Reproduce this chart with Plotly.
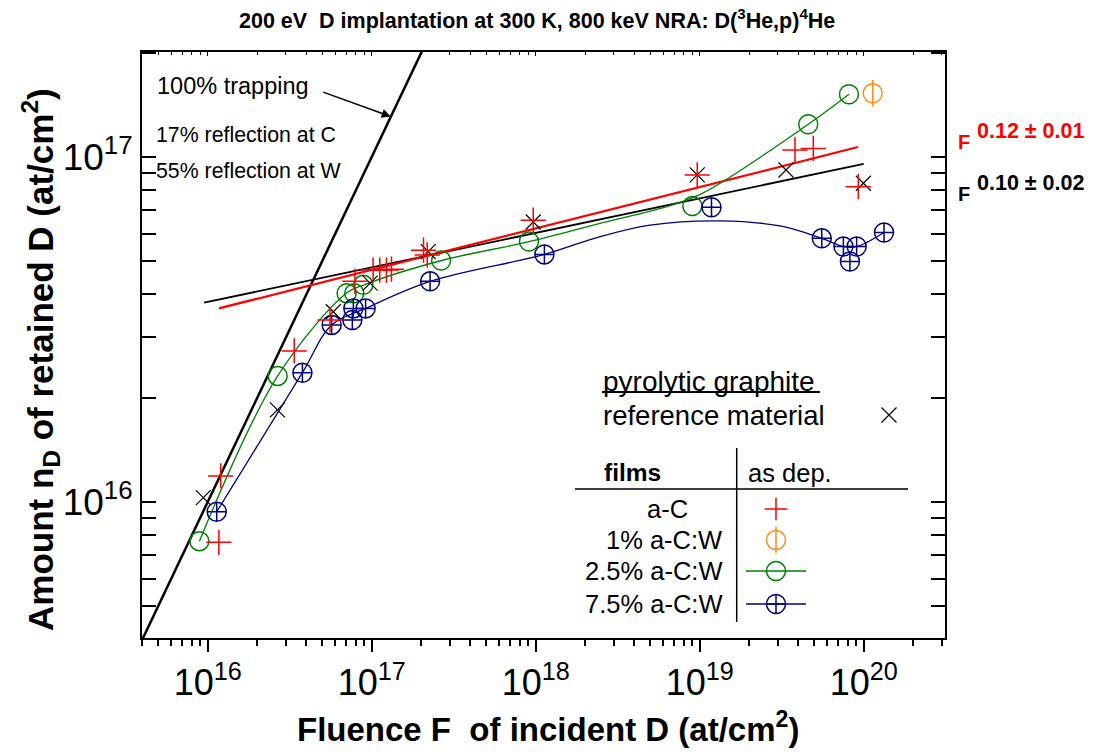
import plotly.graph_objects as go

# ---------------- measured data (fluence F, retained amount n_D; at/cm^2) ----------------
# a-C films, as deposited
ac_F = [1.17e16, 1.2e16, 3.37e16, 5.57e16, 7.9e16, 1.02e17, 1.12e17, 1.23e17, 1.32e17,
        2.07e17, 2.18e17, 9.66e17, 9.66e18, 3.81e19, 4.93e19, 9.27e19]
ac_n = [7.64e15, 1.19e16, 2.74e16, 3.37e16, 4.36e16, 4.70e16, 4.70e16, 4.70e16, 4.73e16,
        5.37e16, 5.20e16, 6.56e16, 8.87e16, 1.048e17, 1.059e17, 8.2e16]

# pyrolytic graphite reference
pg_F = [9.4e15, 2.66e16, 5.83e16, 9.78e16, 2.21e17, 9.66e17, 9.66e18, 3.36e19, 9.95e19]
pg_n = [1.03e16, 1.85e16, 3.56e16, 4.31e16, 5.32e16, 6.48e16, 8.87e16, 9.17e16, 8.39e16]

# 1% a-C:W
w1_F = [1.135e20]
w1_n = [1.53e17]

# 2.5% a-C:W
w25_F = [8.9e15, 2.67e16, 7.03e16, 7.83e16, 8.89e16, 2.65e17, 9.1e17, 9.02e18, 4.59e19, 8.13e19]
w25_n = [7.7e15, 2.32e16, 4.03e16, 4.03e16, 4.26e16, 5.01e16, 5.69e16, 7.21e16, 1.244e17, 1.52e17]

# 7.5% a-C:W
w75_F = [1.135e16, 3.78e16, 5.7e16, 7.62e16, 7.73e16, 9.18e16, 2.27e17, 1.13e18, 1.18e19,
         5.55e19, 7.52e19, 9.06e19, 8.24e19, 1.33e20]
w75_n = [9.37e15, 2.37e16, 3.26e16, 3.37e16, 3.64e16, 3.64e16, 4.36e16, 5.22e16, 7.15e16,
         5.81e16, 5.50e16, 5.50e16, 4.98e16, 6.04e16]

# guide-to-the-eye curves
w25_curve_F = [8.9e15, 2.67e16, 7.06e16, 8.97e16, 2.71e17, 9.1e17, 2.47e18, 6.3e18, 1.05e19, 4.59e19, 8.13e19]
w25_curve_n = [7.7e15, 2.32e16, 4.04e16, 4.26e16, 5.02e16, 5.68e16, 6.42e16, 7.18e16, 7.87e16, 1.244e17, 1.52e17]
w75_curve_F = [1.135e16, 3.78e16, 5.7e16, 9.18e16, 2.27e17, 1.13e18, 2.47e18, 4.98e18, 1.33e19,
               3.09e19, 5.55e19, 7.52e19, 9.06e19, 1.33e20]
w75_curve_n = [9.37e15, 2.37e16, 3.26e16, 3.64e16, 4.36e16, 5.22e16, 5.88e16, 6.35e16, 6.53e16,
               6.31e16, 5.81e16, 5.50e16, 5.50e16, 6.04e16]

# power-law fits n = 10**logA * F**b
fit_ac_b, fit_ac_logA, fit_ac_F = 0.12, 14.633, [1.17e16, 9.23e19]
fit_pg_b, fit_pg_logA, fit_pg_F = 0.10, 14.98, [9.5e15, 1.0e20]

# 100 % trapping: n = F
trap_F = [3.9e15, 2.2e17]

x_ticks = [1e16, 1e17, 1e18, 1e19, 1e20]
x_ticktext = ["10<sup>16</sup>", "10<sup>17</sup>", "10<sup>18</sup>", "10<sup>19</sup>", "10<sup>20</sup>"]
y_ticks = [1e16, 1e17]
y_ticktext = ["10<sup>16</sup>", "10<sup>17</sup>"]

RED, ORANGE, GREEN, BLUE = "#ff0000", "#ff8c1a", "#008000", "#000080"
FONT = "Liberation Sans, Arial, sans-serif"

x_minor = [k * 10.0 ** e for e in range(15, 21) for k in range(2, 10)]
y_minor = [k * 10.0 ** e for e in range(15, 18) for k in range(2, 10)]

# plot-area pixel frame used for placing texts
L, R, T, B = 142, 945, 52, 638


def pxx(x):
    return (x - L) / (R - L)


def pxy(y):
    return (B - y) / (B - T)


fig = go.Figure()


def fit_line(b, logA, F):
    return [10 ** logA * f ** b for f in F]


# 100% trapping line
fig.add_trace(go.Scatter(x=trap_F, y=trap_F, mode="lines",
                         line=dict(color="black", width=2.5), showlegend=False))
# fits
fig.add_trace(go.Scatter(x=fit_pg_F, y=fit_line(fit_pg_b, fit_pg_logA, fit_pg_F), mode="lines",
                         line=dict(color="black", width=1.8), showlegend=False))
fig.add_trace(go.Scatter(x=fit_ac_F, y=fit_line(fit_ac_b, fit_ac_logA, fit_ac_F), mode="lines",
                         line=dict(color=RED, width=2.2), showlegend=False))
# guide curves
fig.add_trace(go.Scatter(x=w25_curve_F, y=w25_curve_n, mode="lines",
                         line=dict(color=GREEN, width=1.3, shape="spline", smoothing=1),
                         showlegend=False))
fig.add_trace(go.Scatter(x=w75_curve_F, y=w75_curve_n, mode="lines",
                         line=dict(color=BLUE, width=1.3, shape="spline", smoothing=1),
                         showlegend=False))

# markers
fig.add_trace(go.Scatter(x=w25_F, y=w25_n, mode="markers", showlegend=False,
                         marker=dict(symbol="circle-open", size=19, color=GREEN, line=dict(width=1.5))))
fig.add_trace(go.Scatter(x=w75_F, y=w75_n, mode="markers", showlegend=False,
                         marker=dict(symbol="circle-cross-open", size=19, color=BLUE, line=dict(width=1.5))))
fig.add_trace(go.Scatter(x=w1_F, y=w1_n, mode="markers", showlegend=False,
                         marker=dict(symbol="circle-open", size=19, color=ORANGE, line=dict(width=1.5))))
fig.add_trace(go.Scatter(x=w1_F, y=w1_n, mode="markers", showlegend=False,
                         marker=dict(symbol="line-ns-open", size=19, color=ORANGE, line=dict(width=1.5))))
fig.add_trace(go.Scatter(x=pg_F, y=pg_n, mode="markers", showlegend=False,
                         marker=dict(symbol="x-thin-open", size=15, color="black", line=dict(width=1.2))))
fig.add_trace(go.Scatter(x=ac_F, y=ac_n, mode="markers", showlegend=False,
                         marker=dict(symbol="cross-thin-open", size=18, color=RED, line=dict(width=1.5))))

# invisible trace so the top mirror axis gets drawn
fig.add_trace(go.Scatter(x=[1e17], y=[1e17], xaxis="x2", yaxis="y", mode="markers",
                         marker=dict(opacity=0), showlegend=False, hoverinfo="skip"))

# legend symbols on a linear overlay frame (0..1 = plot area)
sym_x = pxx(776)
legend_rows = [
    dict(y=509, symbol="cross-thin-open", color=RED, size=16, line=False),
    dict(y=540, symbol="circle-open", color=ORANGE, size=19, line=False),
    dict(y=571, symbol="circle-open", color=GREEN, size=19, line=True),
    dict(y=604, symbol="circle-cross-open", color=BLUE, size=19, line=True),
]
for row in legend_rows:
    if row["line"]:
        fig.add_trace(go.Scatter(x=[pxx(746), pxx(806)], y=[pxy(row["y"])] * 2, mode="lines",
                                 xaxis="x3", yaxis="y3", line=dict(color=row["color"], width=1.3),
                                 showlegend=False, hoverinfo="skip"))
    fig.add_trace(go.Scatter(x=[sym_x], y=[pxy(row["y"])], mode="markers", xaxis="x3", yaxis="y3",
                             marker=dict(symbol=row["symbol"], size=row["size"], color=row["color"],
                                         line=dict(width=1.5)),
                             showlegend=False, hoverinfo="skip"))
fig.add_trace(go.Scatter(x=[sym_x], y=[pxy(540)], mode="markers", xaxis="x3", yaxis="y3",
                         marker=dict(symbol="line-ns-open", size=19, color=ORANGE, line=dict(width=1.5)),
                         showlegend=False, hoverinfo="skip"))
fig.add_trace(go.Scatter(x=[pxx(889)], y=[pxy(415)], mode="markers", xaxis="x3", yaxis="y3",
                         marker=dict(symbol="x-thin-open", size=15, color="black", line=dict(width=1.2)),
                         showlegend=False, hoverinfo="skip"))

annotations = []


def text(s, x, y, size, color="black", xanchor="left", bold=False, angle=0):
    annotations.append(dict(text=f"<b>{s}</b>" if bold else s, x=pxx(x), y=pxy(y),
                            xref="paper", yref="paper", showarrow=False, xanchor=xanchor,
                            yanchor="middle", textangle=angle,
                            font=dict(size=size, color=color, family=FONT)))


text("200 eV\u00a0\u00a0D implantation at 300 K, 800 keV NRA: D(<sup>3</sup>He,p)<sup>4</sup>He",
     537, 19, 21.5, xanchor="center", bold=True)
text("Fluence F\u00a0\u00a0of incident D (at/cm<sup>2</sup>)", 548, 727, 33, xanchor="center",
     bold=True)
text("Amount n<sub>D</sub> of retained D (at/cm<sup>2</sup>)", 40, 360, 35, xanchor="center",
     bold=True, angle=-90)

text("100% trapping", 155, 86, 23.5)
text("17% reflection at C", 154, 135, 21.3)
text("55% reflection at W", 154, 171, 21.3)

text("F", 964, 142, 20, color=RED, xanchor="center", bold=True)
text("0.12 \u00b1 0.01", 975, 131, 21.5, color=RED, bold=True)
text("F", 964, 194, 20, color="black", xanchor="center", bold=True)
text("0.10 \u00b1 0.02", 975, 183, 21.5, color="black", bold=True)

text("pyrolytic graphite", 601, 381, 28)
text("reference material", 601, 415, 27.5)
text("films", 602, 473, 24.5, bold=True)
text("as dep.", 746, 473, 25.5)
text("a-C", 645, 509, 25.5)
text("1% a-C:W", 724, 540, 25.5, xanchor="right")
text("2.5% a-C:W", 724, 571, 25.5, xanchor="right")
text("7.5% a-C:W", 724, 604, 25.5, xanchor="right")

# arrow pointing at the 100% trapping line
annotations.append(dict(x=17.116, y=17.117, xref="x", yref="y", ax=-69, ay=-25, text="",
                        showarrow=True, arrowhead=2, arrowsize=1.2, arrowwidth=1.5,
                        arrowcolor="black"))


def pline(x0, y0, x1, y1, w=1.5):
    return dict(type="line", xref="paper", yref="paper", x0=pxx(x0), y0=pxy(y0),
                x1=pxx(x1), y1=pxy(y1), line=dict(color="black", width=w))


shapes = [
    pline(602, 392, 820, 392, 2),
    pline(575, 489, 908, 489, 1.5),
    pline(736.7, 448, 736.7, 622, 1.5),
]

axis_common = dict(type="log", showgrid=False, zeroline=False, linecolor="black", linewidth=2,
                   showline=True)
hidden_axis = dict(range=[0, 1], visible=False, showticklabels=False, tickvals=[],
                   showgrid=False, zeroline=False, domain=[0, 1])

fig.update_layout(
    width=1094, height=754,
    margin=dict(l=L, r=1094 - R, t=T, b=754 - B),
    paper_bgcolor="white", plot_bgcolor="white",
    showlegend=False,
    font=dict(family=FONT, color="black"),
    xaxis=dict(**axis_common, range=[15.5994, 20.4957], mirror=True,
               ticks="outside", ticklen=12, tickwidth=1.5, tickcolor="black",
               tickvals=x_ticks, ticktext=x_ticktext,
               tickfont=dict(size=36),
               minor=dict(tickvals=x_minor, ticks="outside", ticklen=6, tickwidth=1.5,
                          tickcolor="black")),
    xaxis2=dict(type="log", range=[15.5994, 20.4957], overlaying="x", side="top", anchor="y",
                showgrid=False, zeroline=False, showline=False, ticks="inside", ticklen=4,
                tickwidth=1, tickcolor="black", tickvals=x_ticks, showticklabels=False,
                minor=dict(tickvals=x_minor, ticks="inside", ticklen=3, tickwidth=1,
                           tickcolor="black")),
    yaxis=dict(**axis_common, range=[15.6058, 17.3043], mirror="allticks",
               ticks="inside", ticklen=14, tickwidth=1.5, tickcolor="black",
               tickvals=y_ticks, ticktext=y_ticktext,
               tickfont=dict(size=37),
               minor=dict(tickvals=y_minor, ticks="inside", ticklen=7, tickwidth=1.5,
                          tickcolor="black")),
    xaxis3=dict(**hidden_axis, overlaying="x", anchor="y3"),
    yaxis3=dict(**hidden_axis, overlaying="y", anchor="x3"),
    annotations=annotations,
    shapes=shapes,
)

fig.write_html("out.html")
